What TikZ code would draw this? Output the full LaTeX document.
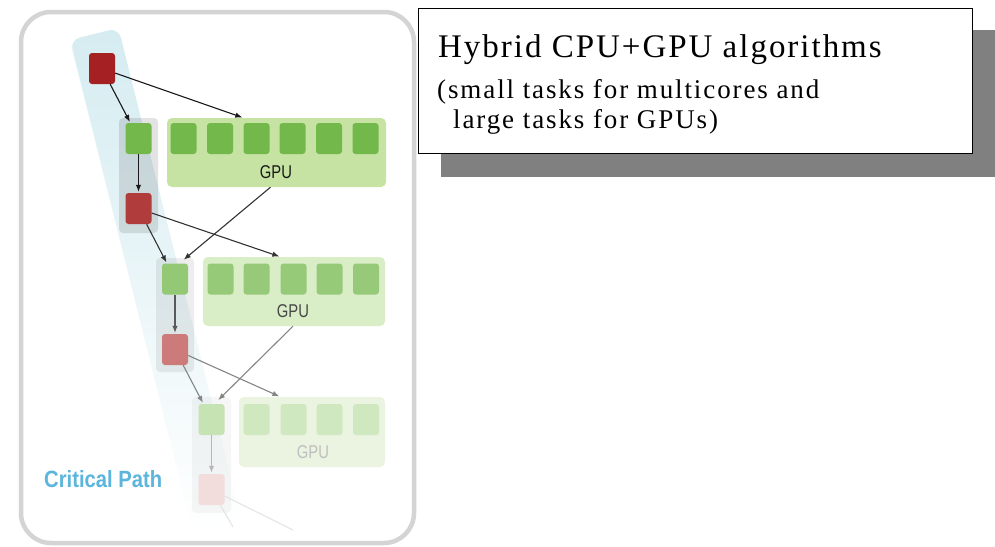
\documentclass[tikz,border=0pt]{standalone}
\usepackage{fontspec}
\usepackage{graphicx}
\setmainfont{Liberation Serif}
\setsansfont{Liberation Sans}
\newfontfamily\titlefont[LetterSpace=6]{Liberation Serif}
\newfontfamily\subfont[LetterSpace=7]{Liberation Serif}
\usetikzlibrary{arrows.meta}
\definecolor{bandblue}{HTML}{D5ECF1}
\definecolor{redA}{HTML}{A52023}
\definecolor{redB}{HTML}{B03C3C}
\definecolor{redC}{HTML}{CC7A7A}
\definecolor{redD}{HTML}{F2DCDC}
\definecolor{greenA}{HTML}{72B84B}
\definecolor{greenB}{HTML}{93C874}
\definecolor{greenC}{HTML}{C6E3B4}
\definecolor{gpuA}{HTML}{C6E3A3}
\definecolor{gpuB}{HTML}{D9EDC7}
\definecolor{gpuC}{HTML}{EAF4E0}
\definecolor{sqB}{HTML}{96CA79}
\definecolor{sqC}{HTML}{D0E8C0}
\definecolor{framegray}{HTML}{D4D4D4}
\definecolor{shadowgray}{HTML}{808080}
\definecolor{cpblue}{HTML}{5BB5DC}
\begin{document}
\begin{tikzpicture}[x=1pt,y=-1pt,
  task/.style={rectangle, rounded corners=3pt, minimum width=26pt, minimum height=31pt, inner sep=0pt, draw=none},
  gpubox/.style={rectangle, rounded corners=5pt, inner sep=0pt, draw=none},
  column/.style={rectangle, rounded corners=4pt, inner sep=0pt, fill=black, draw=none},
  gpulabel/.style={font=\sffamily\fontsize{18.5}{20}\selectfont, inner sep=0pt},
  link/.style={-{Latex[length=7pt,width=5.5pt]}, line width=1.1pt, shorten >=1pt},
  faint/.style={line width=1.1pt, draw=black!10}]
\useasboundingbox (0,0) rectangle (995,546);
\fill[white] (0,0) rectangle (995,546);
% critical path band
\shade[top color=bandblue, middle color=bandblue!88!white, bottom color=white, rounded corners=10pt]
  (70,40) -- (118.5,27.9) -- (241,519) -- (192.5,531) -- cycle;
% columns
\node[column, fill opacity=0.11, minimum width=39pt, minimum height=115pt] (col1) at (138.5,175.5) {};
\node[column, fill opacity=0.07, minimum width=38pt, minimum height=114pt] (col2) at (175,315) {};
\node[column, fill opacity=0.035, minimum width=39pt, minimum height=116pt] (col3) at (211.5,455) {};
% GPU boxes
\node[gpubox, fill=gpuA, minimum width=219pt, minimum height=69pt] (g1) at (276.5,152.5) {};
\node[gpubox, fill=gpuB, minimum width=182pt, minimum height=69pt] (g2) at (294,291.5) {};
\node[gpubox, fill=gpuC, minimum width=146pt, minimum height=70pt] (g3) at (312,432) {};
\foreach \x [count=\i] in {183.5,220,256.5,292.5,329,365.5}
  \node[task, fill=greenA] (g1s\i) at (\x,138.5) {};
\foreach \x [count=\i] in {220.5,256.5,293.5,329.5,366}
  \node[task, fill=sqB] (g2s\i) at (\x,279) {};
\foreach \x [count=\i] in {256.5,293.5,329.5,366}
  \node[task, fill=sqC] (g3s\i) at (\x,419.5) {};
\node[gpulabel, text=black!90] (gl1) at (276,172) {\scalebox{0.8}[1]{GPU}};
\node[gpulabel, text=black!72] (gl2) at (293,311) {\scalebox{0.8}[1]{GPU}};
\node[gpulabel, text=black!25] (gl3) at (313,452) {\scalebox{0.8}[1]{GPU}};
% CPU tasks
\node[task, fill=redA] (r1) at (102,68.5) {};
\node[task, fill=greenA] (c1) at (138.5,138.5) {};
\node[task, fill=redB] (r2) at (138.5,208.5) {};
\node[task, fill=greenB] (c2) at (175,279) {};
\node[task, fill=redC] (r3) at (175,349.5) {};
\node[task, fill=greenC] (c3) at (211.5,419.5) {};
\node[task, fill=redD] (r4) at (211.5,489.5) {};
\coordinate (f1) at (293,530);
\coordinate (f2) at (233,527);
% connectors
\draw[link, draw=black!90] (r1) -- (c1);
\draw[link, draw=black!90] (r1) -- (g1s3.west |- g1.north);
\draw[link, draw=black!90] (c1) -- (r2);
\draw[link, draw=black!80] ([xshift=-6pt]g1.south) -- ([xshift=8pt,yshift=3pt]c2.north);
\draw[link, draw=black!80] (r2) -- (g2s3.west |- g2.north);
\draw[link, draw=black!80] (r2) -- (c2);
\draw[link, draw=black!65] (c2) -- (r3);
\draw[link, draw=black!48] ([xshift=-1pt]g2.south) -- ([xshift=6pt,yshift=3pt]c3.north);
\draw[link, draw=black!48] (r3) -- (g3s2.west |- g3.north);
\draw[link, draw=black!48] (r3) -- (c3);
\draw[link, draw=black!28] (c3) -- (r4);
\draw[faint] (r4) -- (f1);
\draw[faint] (r4) -- (f2);
% critical path label
\node[anchor=base west, inner sep=0pt, text=cpblue, font=\sffamily\bfseries\fontsize{23.5}{28}\selectfont] (cp) at (44,487) {\scalebox{0.86}[1]{Critical Path}};
% outer frame
\draw[framegray, line width=4.5pt, rounded corners=30pt] (21,12) rectangle (414,543);
% title box
\fill[shadowgray] (441,30) rectangle (995,177);
\node[draw=black, line width=1pt, fill=white, minimum width=554pt, minimum height=145pt, inner sep=0pt] (tb) at (695,80.5) {};
\node[anchor=base west, inner sep=0pt, font=\titlefont\fontsize{33}{38}\selectfont] (t1) at (438,57) {Hybrid CPU+GPU algorithms};
\node[anchor=base west, inner sep=0pt, font=\subfont\fontsize{27}{32}\selectfont] (t2) at (437,98) {(small tasks for multicores and};
\node[anchor=base west, inner sep=0pt, font=\subfont\fontsize{27}{32}\selectfont] (t3) at (453,128) {large tasks for GPUs)};
\end{tikzpicture}
\end{document}
